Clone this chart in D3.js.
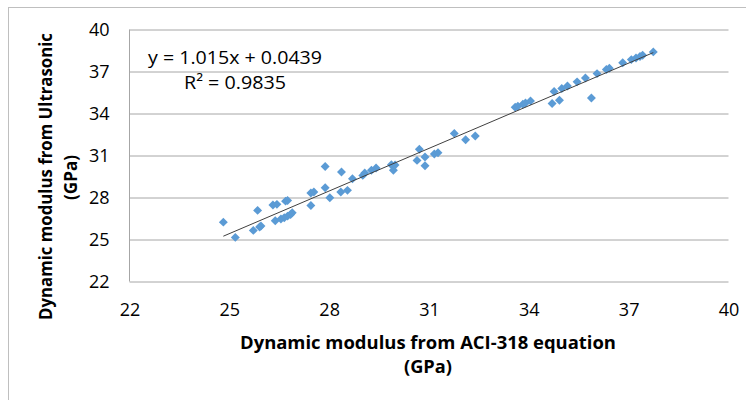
<!DOCTYPE html>
<html>
<head>
<meta charset="utf-8">
<script src="https://cdn.jsdelivr.net/npm/d3@7"></script>
<style>
  body { margin: 0; background: #fff; }
  svg { display: block; font-family: "Open Sans", sans-serif; }
</style>
</head>
<body>
<svg id="chart"></svg>
<script>
var width = 746;
var height = 400;
var margin = {left: 129.5, right: 17.5, top: 29.5, bottom: 118.5};

// values (GPa)
var aciValues = [
  24.82, 25.18, 25.72, 25.85, 25.91, 25.95, 26.31, 26.43, 26.38, 26.55,
  26.65, 26.69, 26.75, 26.75, 26.84, 26.89, 27.45, 27.45, 27.54, 27.88,
  27.88, 28.02, 28.35, 28.37, 28.55, 28.70, 29.01, 29.07, 29.27, 29.41,
  29.87, 29.93, 29.98, 30.64, 30.71, 30.88, 30.88, 31.16, 31.27, 31.76,
  32.10, 32.39, 33.59, 33.67, 33.82, 33.90, 34.05, 34.70, 34.76, 34.92,
  34.99, 35.16, 35.45, 35.70, 35.88, 36.05, 36.33, 36.42, 36.82, 37.08,
  37.22, 37.34, 37.42, 37.74
];
var ultrasonicValues = [
  26.24, 25.15, 25.65, 27.08, 25.89, 25.96, 27.46, 27.51, 26.34, 26.46,
  26.55, 27.74, 27.79, 26.67, 26.79, 26.91, 27.43, 28.32, 28.39, 30.22,
  28.70, 27.98, 28.39, 29.82, 28.51, 29.34, 29.58, 29.75, 29.94, 30.11,
  30.34, 29.94, 30.32, 30.65, 31.44, 30.27, 30.89, 31.11, 31.20, 32.58,
  32.13, 32.39, 34.44, 34.52, 34.66, 34.75, 34.90, 34.71, 35.57, 34.95,
  35.78, 35.97, 36.26, 36.54, 35.11, 36.85, 37.14, 37.23, 37.62, 37.85,
  37.97, 38.07, 38.16, 38.40
];
var tickValues = [22, 25, 28, 31, 34, 37, 40];
var slope = 1.015;
var intercept = 0.0439;
var equationLabel = "y = 1.015x + 0.0439";
var r2Label = "R² = 0.9835";

var data = aciValues.map(function (d, i) {
  return {x: d, y: ultrasonicValues[i]};
});

var svg = d3.select("#chart").attr("width", width).attr("height", height);

// chart border (runs off the right and bottom edges)
svg.append("rect")
  .attr("x", 8.5).attr("y", 7.5)
  .attr("width", 800).attr("height", 500)
  .attr("fill", "none").attr("stroke", "#bfbfbf");

var plotW = width - margin.left - margin.right;
var plotH = height - margin.top - margin.bottom;

var x = d3.scaleLinear().domain([22, 40]).range([0, plotW]);
var y = d3.scaleLinear().domain([22, 40]).range([plotH, 0]);

var g = svg.append("g")
  .attr("transform", "translate(" + margin.left + "," + margin.top + ")");

// horizontal gridlines
g.append("g")
  .call(d3.axisLeft(y).tickValues(tickValues).tickSize(-plotW).tickFormat(""))
  .call(function (s) {
    s.select(".domain").remove();
    s.selectAll("line").attr("stroke", "#a6a6a6");
  });

// left axis line
g.append("line")
  .attr("x1", 0).attr("x2", 0).attr("y1", 0).attr("y2", plotH)
  .attr("stroke", "#a6a6a6");

g.append("g")
  .call(d3.axisLeft(y).tickValues(tickValues).tickSize(0).tickPadding(20))
  .call(function (s) {
    s.select(".domain").remove();
    s.selectAll("text").attr("font-size", 18).attr("fill", "#000")
      .attr("font-family", "Open Sans, sans-serif");
  });

g.append("g")
  .attr("transform", "translate(0," + plotH + ")")
  .call(d3.axisBottom(x).tickValues(tickValues).tickSize(0).tickPadding(22))
  .call(function (s) {
    s.select(".domain").remove();
    s.selectAll("text").attr("font-size", 18).attr("fill", "#000")
      .attr("font-family", "Open Sans, sans-serif");
  });

// markers
var diamond = d3.symbol().type(d3.symbolSquare).size(40);
g.selectAll("path.pt")
  .data(data)
  .enter()
  .append("path")
  .attr("class", "pt")
  .attr("d", diamond)
  .attr("fill", "#5b9bd5")
  .attr("transform", function (d) {
    return "translate(" + x(d.x) + "," + y(d.y) + ") rotate(45)";
  });

// linear trendline
var xMin = d3.min(aciValues), xMax = d3.max(aciValues);
g.append("line")
  .attr("x1", x(xMin)).attr("y1", y(slope * xMin + intercept))
  .attr("x2", x(xMax)).attr("y2", y(slope * xMax + intercept))
  .attr("stroke", "#404040").attr("stroke-width", 1);

// equation
svg.append("text").attr("x", 148).attr("y", 64)
  .attr("font-size", 18).attr("textLength", 174).attr("lengthAdjust", "spacingAndGlyphs")
  .text(equationLabel);
svg.append("text").attr("x", 184).attr("y", 89)
  .attr("font-size", 18).attr("textLength", 102).attr("lengthAdjust", "spacingAndGlyphs")
  .text(r2Label);

// x axis title
svg.append("text").attr("x", 240).attr("y", 349)
  .attr("font-size", 18).attr("font-weight", "bold")
  .attr("textLength", 376).attr("lengthAdjust", "spacingAndGlyphs")
  .text("Dynamic modulus  from ACI-318 equation");
svg.append("text").attr("x", 404).attr("y", 373)
  .attr("font-size", 18).attr("font-weight", "bold")
  .attr("textLength", 48).attr("lengthAdjust", "spacingAndGlyphs")
  .text("(GPa)");

// y axis title
svg.append("text")
  .attr("transform", "translate(52,320) rotate(-90)")
  .attr("font-size", 18).attr("font-weight", "bold")
  .attr("textLength", 287).attr("lengthAdjust", "spacingAndGlyphs")
  .text("Dynamic modulus from Ultrasonic");
svg.append("text")
  .attr("transform", "translate(77,200) rotate(-90)")
  .attr("font-size", 18).attr("font-weight", "bold")
  .attr("textLength", 45).attr("lengthAdjust", "spacingAndGlyphs")
  .text("(GPa)");
</script>
</body>
</html>
